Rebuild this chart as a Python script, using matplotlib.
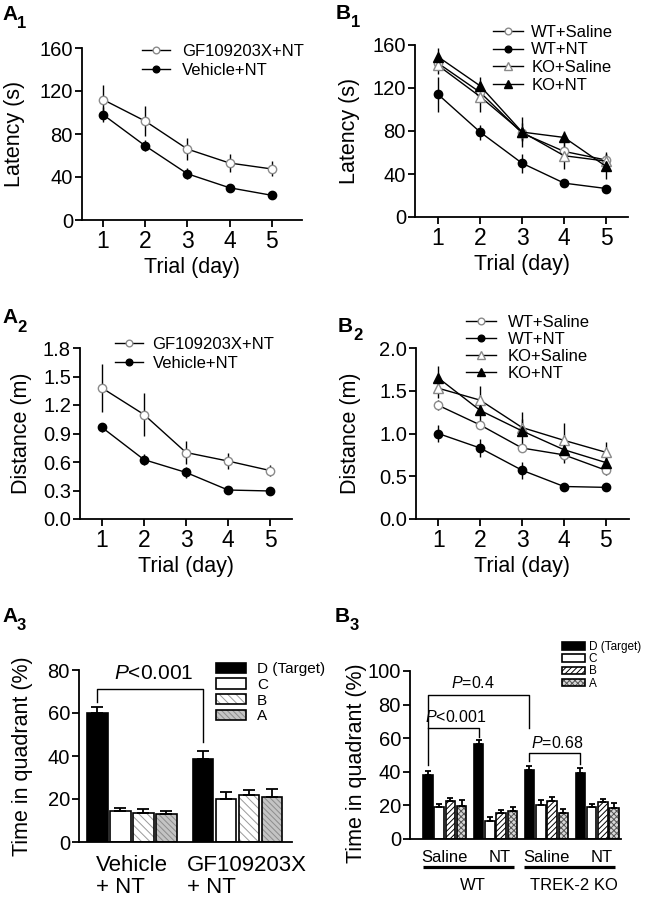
import matplotlib
matplotlib.use('Agg')
import matplotlib.pyplot as plt
from matplotlib.patches import Patch
from matplotlib.lines import Line2D
from matplotlib.legend_handler import HandlerTuple
import matplotlib.transforms as mtransforms
import numpy as np

plt.rcParams['font.family'] = ['Liberation Sans', 'DejaVu Sans']
plt.rcParams['mathtext.fontset'] = 'custom'
plt.rcParams['mathtext.rm'] = 'Liberation Sans'
plt.rcParams['mathtext.it'] = 'Liberation Sans:italic'
plt.rcParams['hatch.linewidth'] = 0.7

# ---------------- data ----------------
days = [1, 2, 3, 4, 5]

# A1 latency (s)
a1_gf = [112, 92, 66, 53, 47.5]
a1_gf_se = [14, 14, 10, 8, 7]
a1_veh = [98, 69, 43, 30, 23]
a1_veh_se = [7, 5, 5, 3, 3]

# A2 distance (m)
a2_gf = [1.38, 1.10, 0.70, 0.61, 0.51]
a2_gf_se = [0.25, 0.23, 0.12, 0.08, 0.06]
a2_veh = [0.965, 0.625, 0.49, 0.305, 0.295]
a2_veh_se = [0.05, 0.06, 0.06, 0.02, 0.03]

# B1 latency (s)
b1_wt_sal = [143, 116, 78, 61, 53]
b1_wt_sal_se = [5, 6, 6, 6, 6]
b1_wt_nt = [114, 79, 50, 31.5, 26.5]
b1_wt_nt_se = [16, 7, 9, 4, 3]
b1_ko_sal = [141, 112, 79, 57, 52]
b1_ko_sal_se = [8, 14, 8, 12, 8]
b1_ko_nt = [149, 122, 79, 74, 47]
b1_ko_nt_se = [8, 8, 14, 6, 12]

# B2 distance (m)
b2_wt_sal = [1.33, 1.10, 0.83, 0.75, 0.57]
b2_wt_sal_se = [0.06, 0.05, 0.04, 0.06, 0.05]
b2_wt_nt = [1.00, 0.83, 0.57, 0.38, 0.37]
b2_wt_nt_se = [0.10, 0.10, 0.10, 0.02, 0.02]
b2_ko_sal = [1.53, 1.39, 1.07, 0.92, 0.78]
b2_ko_sal_se = [0.12, 0.16, 0.10, 0.20, 0.12]
b2_ko_nt = [1.65, 1.27, 1.03, 0.81, 0.66]
b2_ko_nt_se = [0.14, 0.14, 0.22, 0.15, 0.10]

quadrants = ['D (Target)', 'C', 'B', 'A']

# A3 time in quadrant (%)
a3_groups = ['Vehicle\n+ NT', 'GF109203X\n+ NT']
a3_vals = {'D': [60.1, 38.5], 'C': [14.4, 19.8], 'B': [13.6, 22.0], 'A': [13.0, 20.8]}
a3_se = {'D': [2.5, 4.0], 'C': [1.3, 3.6], 'B': [1.6, 2.2], 'A': [1.6, 3.7]}

# B3 time in quadrant (%)
b3_treat = ['Saline', 'NT', 'Saline', 'NT']
b3_geno = ['WT', 'TREK-2 KO']
b3_vals = {'D': [38.1, 56.5, 41.0, 39.1], 'C': [18.8, 10.9, 20.0, 19.0],
           'B': [22.6, 15.7, 22.6, 22.0], 'A': [19.8, 16.4, 15.3, 18.5]}
b3_se = {'D': [2.5, 2.5, 2.5, 3.0], 'C': [1.8, 1.9, 3.0, 1.6],
         'B': [2.0, 1.6, 2.2, 2.0], 'A': [3.6, 2.8, 2.4, 2.8]}

# ---------------- layout helpers ----------------
W, H = 646, 900
fig = plt.figure(figsize=(W / 100, H / 100), dpi=100)


def add_ax(l, t, r, b):
    return fig.add_axes([l / W, 1 - b / H, (r - l) / W, (b - t) / H])


def style(ax, xticks=True):
    for s in ['top', 'right']:
        ax.spines[s].set_visible(False)
    for s in ['left', 'bottom']:
        ax.spines[s].set_linewidth(1.3)
    ax.tick_params(axis='y', direction='out', length=5, width=1.3, labelsize=14.5, pad=1.5)
    if xticks:
        ax.tick_params(axis='x', direction='out', length=5, width=1.3, labelsize=16.5, pad=2)
    else:
        ax.tick_params(axis='x', length=0, labelbottom=False)


GRAY = '#8a8a8a'
MK = {
    'open_o': dict(marker='o', mfc='white', mec=GRAY, ms=6),
    'fill_o': dict(marker='o', mfc='black', mec='black', ms=6),
    'open_t': dict(marker='^', mfc='white', mec=GRAY, ms=6.5),
    'fill_t': dict(marker='^', mfc='black', mec='black', ms=6.5),
}


def line_panel(ax, series, ylim, yticks, ylabel, xlim, ylab_x, leg_xy, hl, htp, lsp):
    handles = []
    for label, vals, se, mk in series:
        ax.errorbar(days, vals, yerr=se, fmt='none', ecolor='black', elinewidth=1.0,
                    capsize=0, zorder=2)
        ln, = ax.plot(days, vals, '-', color='black', lw=1.0, zorder=3, **MK[mk])
        handles.append(ln)
    ax.set_xlim(*xlim)
    ax.set_ylim(*ylim)
    ax.set_yticks(yticks)
    ax.set_xticks(days)
    style(ax)
    ax.set_ylabel(ylabel, fontsize=15.5)
    ax.set_xlabel('Trial (day)', fontsize=15.5)
    ax.yaxis.set_label_coords(ylab_x, 0.5)
    ax.xaxis.set_label_coords(0.5, -0.215)
    ax.legend(handles, [s[0] for s in series], loc='upper left',
              bbox_to_anchor=(leg_xy[0] / W, 1 - leg_xy[1] / H), bbox_transform=fig.transFigure,
              frameon=False, fontsize=12, borderpad=0, borderaxespad=0, numpoints=1,
              markerscale=0.8, handlelength=hl, handletextpad=htp, labelspacing=lsp)


def panel_label(x, y, letter, sub, subdx, subdy):
    fig.text(x / W, 1 - y / H, letter, fontsize=15, fontweight='bold', va='baseline')
    fig.text((x + subdx) / W, 1 - (y + subdy) / H, sub, fontsize=12, fontweight='bold', va='baseline')


# ---------------- A1 ----------------
axA1 = add_ax(82, 48, 302, 220)
line_panel(axA1, [('GF109203X+NT', a1_gf, a1_gf_se, 'open_o'),
                  ('Vehicle+NT', a1_veh, a1_veh_se, 'fill_o')],
           (0, 160), [0, 40, 80, 120, 160], 'Latency (s)', (0.5, 5.72), -0.259,
           (142, 44), 1.7, 0.7, 0.25)

# ---------------- B1 ----------------
axB1 = add_ax(415, 45, 628, 217)
line_panel(axB1, [('WT+Saline', b1_wt_sal, b1_wt_sal_se, 'open_o'),
                  ('WT+NT', b1_wt_nt, b1_wt_nt_se, 'fill_o'),
                  ('KO+Saline', b1_ko_sal, b1_ko_sal_se, 'open_t'),
                  ('KO+NT', b1_ko_nt, b1_ko_nt_se, 'fill_t')],
           (0, 160), [0, 40, 80, 120, 160], 'Latency (s)', (0.45, 5.52), -0.258,
           (493, 25), 1.8, 0.5, 0.15)

# ---------------- A2 ----------------
axA2 = add_ax(80, 348, 292, 519)
line_panel(axA2, [('GF109203X+NT', a2_gf, a2_gf_se, 'open_o'),
                  ('Vehicle+NT', a2_veh, a2_veh_se, 'fill_o')],
           (0, 1.8), [0.0, 0.3, 0.6, 0.9, 1.2, 1.5, 1.8], 'Distance (m)', (0.48, 5.52), -0.226,
           (115, 337), 1.7, 0.55, 0.25)
axA2.yaxis.set_major_formatter(matplotlib.ticker.FormatStrFormatter('%.1f'))

# ---------------- B2 ----------------
axB2 = add_ax(416, 348, 629, 519)
line_panel(axB2, [('WT+Saline', b2_wt_sal, b2_wt_sal_se, 'open_o'),
                  ('WT+NT', b2_wt_nt, b2_wt_nt_se, 'fill_o'),
                  ('KO+Saline', b2_ko_sal, b2_ko_sal_se, 'open_t'),
                  ('KO+NT', b2_ko_nt, b2_ko_nt_se, 'fill_t')],
           (0, 2.0), [0.0, 0.5, 1.0, 1.5, 2.0], 'Distance (m)', (0.47, 5.55), -0.258,
           (466, 315), 1.8, 0.7, 0.12)
axB2.yaxis.set_major_formatter(matplotlib.ticker.FormatStrFormatter('%.1f'))


# ---------------- bar helper ----------------
def bar_panel(ax, offsets, vals, se, styles, width, capsize):
    offsets = np.asarray(offsets, dtype=float)
    keys = ['D', 'C', 'B', 'A']
    handles = []
    for qi, k in enumerate(keys):
        x = offsets + qi
        fc, hatch, hcol = styles[k]
        v = np.asarray(vals[k])
        if hatch:
            ax.bar(x, v, width, color=fc, edgecolor=hcol, hatch=hatch, linewidth=0, zorder=2)
            ax.bar(x, v, width, facecolor='none', edgecolor='black', linewidth=1.2, zorder=2.1)
            handles.append((Patch(facecolor=fc, edgecolor=hcol, hatch=hatch, linewidth=0),
                            Patch(facecolor='none', edgecolor='black', linewidth=1.2)))
        else:
            ax.bar(x, v, width, color=fc, edgecolor='black', linewidth=1.2, zorder=2)
            handles.append(Patch(facecolor=fc, edgecolor='black', linewidth=1.2))
        ax.errorbar(x, v, yerr=[np.zeros(len(v)), se[k]], fmt='none', ecolor='black',
                    elinewidth=1.3, capsize=capsize, capthick=1.3, zorder=3)
    return handles


# ---------------- A3 ----------------
axA3 = add_ax(79, 670, 292, 842)
a3_off = [0, 4.6]
a3_styles = {'D': ('black', None, None), 'C': ('white', None, None),
             'B': ('white', '\\\\\\\\', '#9a9a9a'), 'A': ('#c4c4c4', '\\\\\\\\\\\\', '#8c8c8c')}
h3 = bar_panel(axA3, a3_off, a3_vals, a3_se, a3_styles, 0.9, 4)
axA3.set_xlim(-0.8, 8.47)
axA3.set_ylim(0, 80)
axA3.set_yticks([0, 20, 40, 60, 80])
style(axA3, xticks=False)
axA3.set_ylabel('Time in quadrant (%)', fontsize=15.5)
axA3.yaxis.set_label_coords(-0.216, 0.5)
tA3 = mtransforms.blended_transform_factory(axA3.transData, axA3.transAxes)
for g, lab in enumerate(a3_groups):
    axA3.text(a3_off[g] + 1.5 + (0.4 if g == 1 else 0), -0.075, lab, transform=tA3,
              ha='center', va='top', multialignment='left', fontsize=16, linespacing=1.05)
axA3.plot([0, 0, 4.6, 4.6], [65, 71.2, 71.2, 46.5], color='black', lw=1.0, clip_on=False)
axA3.text(2.45, 75.8, '$\\mathit{P}$<0.001', ha='center', va='baseline', fontsize=15)
axA3.legend(h3, quadrants, loc='upper left', bbox_to_anchor=(216 / W, 1 - 662 / H),
            bbox_transform=fig.transFigure, frameon=False, fontsize=11, borderpad=0,
            borderaxespad=0, handlelength=1.96, handleheight=0.65, handletextpad=0.72,
            labelspacing=0.12, handler_map={tuple: HandlerTuple(ndivide=1, pad=0)})

# ---------------- B3 ----------------
axB3 = add_ax(410, 671, 621, 839)
b3_off = [0, 4.5, 9, 13.5]
b3_styles = {'D': ('black', None, None), 'C': ('white', None, None),
             'B': ('white', '//////', 'black'), 'A': ('#d8d8d8', 'xxxxxx', '#555555')}
hb3 = bar_panel(axB3, b3_off, b3_vals, b3_se, b3_styles, 0.85, 2.5)
axB3.set_xlim(-1.57, 17.1)
axB3.set_ylim(0, 100)
axB3.set_yticks([0, 20, 40, 60, 80, 100])
style(axB3, xticks=False)
axB3.set_ylabel('Time in quadrant (%)', fontsize=15.5)
axB3.yaxis.set_label_coords(-0.204, 0.45)
tB3 = mtransforms.blended_transform_factory(axB3.transData, axB3.transAxes)
for g, lab in enumerate(b3_treat):
    axB3.text(b3_off[g] + 1.5 + (0.4 if lab == 'NT' else 0), -0.113, lab, transform=tB3,
              ha='center', va='center', fontsize=12)
for j, lab in enumerate(b3_geno):
    x0 = b3_off[2 * j] - 0.45
    x1 = b3_off[2 * j + 1] + 3.1
    axB3.plot([x0, x1], [-0.167, -0.167], color='black', lw=2.3, transform=tB3,
              clip_on=False, solid_capstyle='butt')
    axB3.text((x0 + x1) / 2 + 0.4, -0.274, lab, transform=tB3, ha='center', va='center',
              fontsize=12)
# brackets
axB3.plot([0, 0, 9, 9], [44, 85.7, 85.7, 66], color='black', lw=1.0, clip_on=False)
axB3.plot([0, 4.5, 4.5], [66, 66, 60.7], color='black', lw=1.0, clip_on=False)
axB3.plot([9, 9, 13.5, 13.5], [46.5, 51, 51, 44.6], color='black', lw=1.0, clip_on=False)
axB3.text(4.0, 90, '$\\mathit{P}$=0.4', ha='center', va='baseline', fontsize=11.5)
axB3.text(-0.24, 69.8, '$\\mathit{P}$<0.001', ha='left', va='baseline', fontsize=11.5)
axB3.text(11.5, 54.3, '$\\mathit{P}$=0.68', ha='center', va='baseline', fontsize=11.5)
axB3.legend(hb3, quadrants, loc='upper left', bbox_to_anchor=(562 / W, 1 - 641 / H),
            bbox_transform=fig.transFigure, frameon=False, fontsize=8.5, borderpad=0,
            borderaxespad=0, handlelength=1.95, handleheight=0.6, handletextpad=0.3,
            labelspacing=0.02, handler_map={tuple: HandlerTuple(ndivide=1, pad=0)})

# ---------------- panel labels ----------------
panel_label(2, 20, 'A', '1', 15, 8)
panel_label(2, 323, 'A', '2', 15, 9)
panel_label(2, 622, 'A', '3', 15, 8)
panel_label(336, 19, 'B', '1', 15, 8)
panel_label(338, 332, 'B', '2', 15, 8)
panel_label(335, 622, 'B', '3', 15, 8)

fig.savefig('out.png', dpi=100)
